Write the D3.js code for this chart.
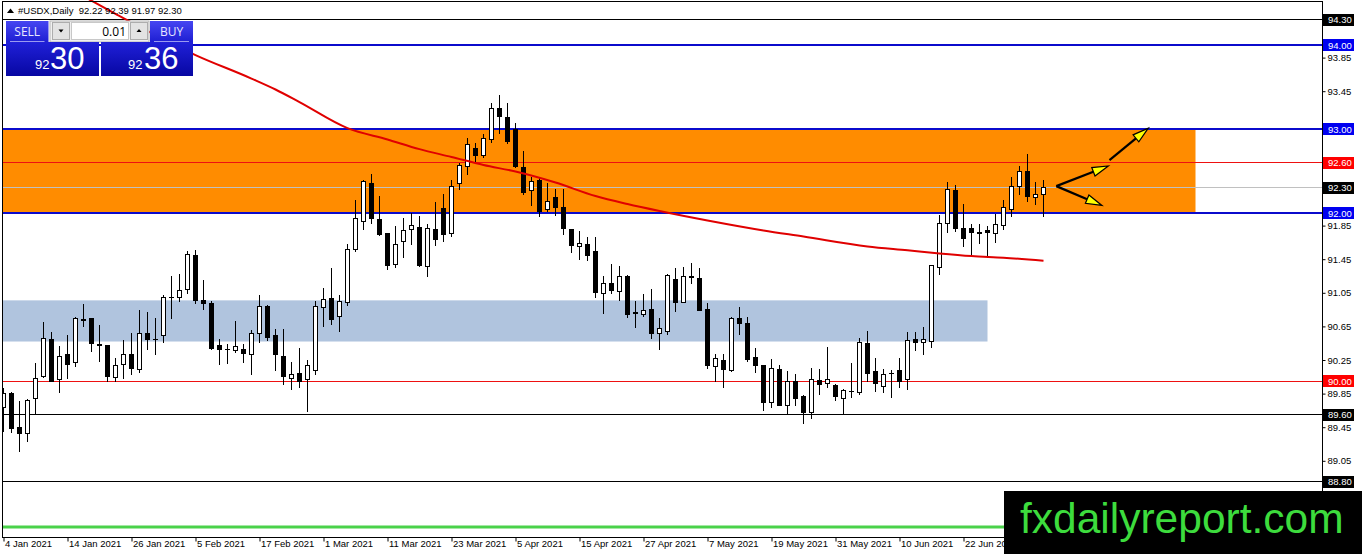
<!DOCTYPE html>
<html><head><meta charset="utf-8">
<script src="https://cdn.jsdelivr.net/npm/d3@7"></script>
<style>body{margin:0;background:#fff;overflow:hidden}svg{display:block}</style>
</head><body><svg id="c" width="1362" height="554"></svg>
<script>
// ---------------- DATA ----------------
const symbolTitle = "#USDX,Daily";
const headerOHLC = ["92.22", "92.39", "91.97", "92.30"];
const lotSize = "0.01";
const sellQuote = ["92", "30"];
const buyQuote = ["92", "36"];
const watermark = "fxdailyreport.com";

const dateLabels = ["4 Jan 2021","14 Jan 2021","26 Jan 2021","5 Feb 2021","17 Feb 2021","1 Mar 2021",
  "11 Mar 2021","23 Mar 2021","5 Apr 2021","15 Apr 2021","27 Apr 2021","7 May 2021","19 May 2021",
  "31 May 2021","10 Jun 2021","22 Jun 2021"];
const dateTickIdx = [0,8,16,24,32,40,48,56,64,72,80,88,96,104,112,120];

const priceTicks = [94.25,93.85,93.45,93.05,92.65,92.25,91.85,91.45,91.05,90.65,90.25,89.85,89.45,89.05];

const openV = [89.68,89.85,89.45,89.37,89.79,90.05,90.50,90.02,90.31,90.22,
 90.73,90.75,90.43,90.42,90.04,90.20,90.32,90.14,90.57,90.50,
 90.54,90.99,91.00,91.09,91.50,90.96,90.92,90.42,90.38,90.36,
 90.38,90.32,90.57,90.89,90.54,90.29,90.03,90.09,90.02,90.13,
 90.88,90.98,90.77,90.93,91.56,91.90,92.35,91.92,91.76,91.39,
 91.66,91.80,91.83,91.36,91.80,92.05,91.76,92.35,92.55,92.77,
 92.69,92.87,93.24,93.14,93.00,92.54,92.27,92.39,92.04,92.18,
 92.06,91.80,91.60,91.63,91.54,91.04,91.16,91.06,91.25,90.81,
 90.79,90.85,90.57,90.59,91.21,90.94,91.24,91.22,90.85,90.17,
 90.25,90.13,90.75,90.69,90.28,90.18,89.74,90.14,89.71,89.99,
 89.81,89.62,90.01,89.97,89.95,89.79,89.88,89.86,90.45,90.11,
 89.93,90.09,90.13,90.02,90.49,90.46,90.47,91.35,91.88,92.27,
 91.81,91.82,91.77,91.79,91.76,91.85,92.04,92.31,92.49,92.19,
 92.22];
const highV = [89.92,89.87,89.76,89.78,90.21,90.70,90.58,90.42,90.55,90.76,
 90.92,90.75,90.67,90.42,90.27,90.49,90.57,90.85,90.82,90.75,
 91.02,91.25,91.27,91.55,91.56,91.20,90.95,90.50,90.44,90.71,
 90.44,90.61,91.02,90.90,90.62,90.62,90.23,90.39,90.25,90.95,
 91.11,91.35,91.02,91.63,92.16,92.39,92.46,92.20,91.76,91.85,
 91.94,92.00,91.96,91.87,92.13,92.23,92.39,92.59,92.89,92.83,
 92.94,93.31,93.40,93.31,93.07,92.74,92.43,92.43,92.36,92.29,
 92.29,91.80,91.78,91.71,91.72,91.25,91.39,91.37,91.26,90.95,
 91.04,91.10,90.75,91.27,91.35,91.36,91.40,91.34,90.93,90.32,
 90.32,90.76,90.88,90.76,90.39,90.19,90.26,90.19,90.12,90.08,
 89.83,90.15,90.14,90.40,89.96,89.91,90.21,90.51,90.60,90.27,
 90.14,90.13,90.27,90.58,90.58,90.64,91.37,91.98,92.37,92.33,
 92.11,91.87,91.87,91.85,91.99,92.16,92.43,92.56,92.70,92.37,
 92.39];
const lowV = [89.40,89.39,89.17,89.28,89.62,90.05,90.00,89.87,90.04,90.18,
 90.66,90.36,90.24,90.00,90.00,90.04,90.08,90.11,90.38,90.32,
 90.46,90.75,90.95,91.05,90.93,90.86,90.38,90.20,90.22,90.34,
 90.23,90.08,90.47,90.49,90.13,89.96,89.90,89.93,89.64,90.08,
 90.65,90.68,90.59,90.91,91.55,91.81,91.88,91.74,91.33,91.36,
 91.48,91.63,91.37,91.25,91.62,91.67,91.73,92.29,92.47,92.61,
 92.67,92.84,92.95,92.83,92.55,92.23,92.10,91.96,92.02,91.98,
 91.75,91.54,91.45,91.44,91.00,90.81,91.05,90.96,90.76,90.64,
 90.77,90.51,90.38,90.56,90.83,90.94,91.17,90.84,90.15,90.00,
 89.93,90.12,90.56,90.24,90.11,89.65,89.69,89.71,89.61,89.71,
 89.50,89.56,89.85,89.93,89.77,89.62,89.81,89.85,90.00,89.88,
 89.87,89.81,89.93,89.91,90.37,90.32,90.40,91.27,91.77,91.79,
 91.61,91.50,91.64,91.48,91.66,91.81,91.96,92.23,92.14,92.11,
 91.97];
const closeV = [89.85,89.44,89.38,89.77,90.03,90.51,90.00,90.29,90.20,90.75,
 90.72,90.45,90.42,90.05,90.18,90.32,90.15,90.56,90.50,90.49,
 90.99,91.00,91.08,91.51,90.96,90.92,90.39,90.38,90.37,90.41,
 90.33,90.56,90.89,90.52,90.31,90.05,90.08,90.00,90.19,90.89,
 90.97,90.73,90.95,91.57,91.94,92.37,91.94,91.75,91.38,91.63,
 91.79,91.85,91.37,91.81,91.69,91.74,92.31,92.56,92.81,92.68,
 92.89,93.25,93.15,92.85,92.55,92.24,92.37,92.02,92.14,92.06,
 91.81,91.61,91.64,91.49,91.05,91.16,91.08,91.24,90.79,90.80,
 90.84,90.56,90.62,91.26,90.93,91.24,91.23,90.84,90.18,90.27,
 90.14,90.75,90.69,90.26,90.19,89.74,90.15,89.71,90.00,89.79,
 89.62,90.02,89.96,90.02,89.81,89.89,89.87,90.46,90.09,89.97,
 90.08,90.09,90.00,90.48,90.46,90.49,91.37,91.88,92.28,91.81,
 91.70,91.77,91.76,91.77,91.86,92.06,92.31,92.49,92.20,92.22,
 92.30];

// moving average (at these bars)
const maIdx = [10,14,24,31,34,37,43,48,52,56,60,64,69,74,78,82,88,95,100,108,113,117,121,125,130];
const maVal = [94.58,94.37,93.88,93.60,93.47,93.32,93.01,92.875,92.76,92.667,92.571,92.494,92.363,
  92.202,92.107,92.024,91.911,91.792,91.72,91.602,91.556,91.518,91.487,91.468,91.432];

// horizontal levels
const blueLevels = [94.00, 93.00, 92.00];
const redLevels = [92.60, 90.00];
const blackLevels = [94.30, 89.60, 88.80];
const bidLevel = 92.30;
const greenLevel = 88.26;

// zones [fromBar, toBar, lowPrice, highPrice]
const orangeZone = [-1, 149, 92.00, 93.00];
const blueZone = [-1, 123, 90.47, 90.96];

// arrows [fromBar, fromPrice, toBar, toPrice]
const arrowsData = [
  [131.6, 92.32, 138.1, 92.56],
  [138.25, 92.63, 143.1, 93.01],
  [131.6, 92.32, 137.3, 92.09]
];

// ---------------- LAYOUT ----------------
const svg = d3.select("#c");
const L = 2.5, T = 1.5, R = 1322.5, B = 537.5;
const x = d3.scaleLinear().domain([0, 130]).range([3.5, 1043.5]);
const y = d3.scaleLinear().domain([92, 93]).range([213, 129]);
const crisp = v => Math.round(v - 0.5) + 0.5;

const defs = svg.append("defs");
defs.append("clipPath").attr("id", "plot").append("rect")
  .attr("x", L).attr("y", 0).attr("width", R - L).attr("height", B);
function grad(id, c1, c2) {
  const g = defs.append("linearGradient").attr("id", id).attr("x1", 0).attr("y1", 0).attr("x2", 0).attr("y2", 1);
  g.append("stop").attr("offset", "0%").attr("stop-color", c1);
  g.append("stop").attr("offset", "100%").attr("stop-color", c2);
}
grad("gSmall", "#4646f2", "#1e1ed2");
grad("gBig", "#2020d8", "#0707a2");

svg.append("rect").attr("width", 1362).attr("height", 554).attr("fill", "#fff");
const plot = svg.append("g").attr("clip-path", "url(#plot)");

// zones
function zone(z, color) {
  const x0 = Math.max(L, x(z[0])), x1 = x(z[1]);
  plot.append("rect").attr("x", x0).attr("width", x1 - x0)
    .attr("y", y(z[3])).attr("height", y(z[2]) - y(z[3])).attr("fill", color);
}
zone(orangeZone, "#ff8c00");
zone(blueZone, "#b0c4de");

// horizontal lines
function hline(p, color, w) {
  const yy = w % 2 ? crisp(y(p)) : Math.round(y(p));
  plot.append("line").attr("x1", L).attr("x2", R).attr("y1", yy).attr("y2", yy)
    .attr("stroke", color).attr("stroke-width", w);
}
hline(bidLevel, "#c0c0c0", 1);
redLevels.forEach(p => hline(p, "#ee1111", 1));
blackLevels.forEach(p => hline(p, "#000", 1));
blueLevels.forEach(p => hline(p, "#0b0bcc", 2));
plot.append("line").attr("x1", L).attr("x2", R).attr("y1", Math.round(y(greenLevel)))
  .attr("y2", Math.round(y(greenLevel))).attr("stroke", "#4ad24a").attr("stroke-width", 3);

// candles
const bars = d3.range(openV.length).map(i => ({i, o: openV[i], h: highV[i], l: lowV[i], c: closeV[i]}));
const cg = plot.append("g");
cg.selectAll("line.wick").data(bars).join("line").attr("class", "wick")
  .attr("x1", d => x(d.i)).attr("x2", d => x(d.i))
  .attr("y1", d => Math.round(y(d.h))).attr("y2", d => Math.round(y(d.l)) + 1)
  .attr("stroke", "#000").attr("stroke-width", 1);
bars.forEach(d => {
  const top = crisp(y(Math.max(d.o, d.c))), bot = crisp(y(Math.min(d.o, d.c)));
  const cx = x(d.i);
  if (bot - top < 1) {
    cg.append("line").attr("x1", cx - 2.5).attr("x2", cx + 2.5).attr("y1", top).attr("y2", top)
      .attr("stroke", "#000").attr("stroke-width", 1);
  } else {
    cg.append("rect").attr("x", cx - 2).attr("width", 4).attr("y", top).attr("height", bot - top)
      .attr("fill", d.c >= d.o ? "#fff" : "#000").attr("stroke", "#000").attr("stroke-width", 1);
  }
});

// moving average
const maPts = maIdx.map((d, k) => [x(d), y(maVal[k])]);
svg.append("path").attr("d", d3.line().curve(d3.curveMonotoneX)(maPts))
  .attr("fill", "none").attr("stroke", "#e00000").attr("stroke-width", 2);

// arrows
arrowsData.forEach(a => {
  const x0 = x(a[0]), y0 = y(a[1]), x1 = x(a[2]), y1 = y(a[3]);
  const ang = Math.atan2(y1 - y0, x1 - x0);
  const len = 16, hw = 4.5;
  const bx = x1 - len * Math.cos(ang), by = y1 - len * Math.sin(ang);
  svg.append("line").attr("x1", x0).attr("y1", y0).attr("x2", bx).attr("y2", by)
    .attr("stroke", "#000").attr("stroke-width", 2.2);
  const px = -Math.sin(ang) * hw, py = Math.cos(ang) * hw;
  svg.append("polygon")
    .attr("points", [[x1, y1], [bx + px, by + py], [bx - px, by - py]].map(p => p.join(",")).join(" "))
    .attr("fill", "#ffff00").attr("stroke", "#000").attr("stroke-width", 1.2).attr("stroke-linejoin", "miter");
});

// frame
svg.append("rect").attr("x", L).attr("y", T).attr("width", R - L).attr("height", B - T)
  .attr("fill", "none").attr("stroke", "#000").attr("stroke-width", 1);

// level tags occupy the axis at these prices; tick labels right under a tag are hidden by it
const tagLevels = blackLevels.concat(blueLevels, redLevels, [bidLevel]);
const hiddenByTag = p => tagLevels.some(t => Math.abs(y(t) - y(p)) < 9);

// price axis
const FONT = "'Liberation Sans', Arial, sans-serif";
const ya = svg.append("g").attr("transform", `translate(${R},0)`)
  .call(d3.axisRight(y).tickValues(priceTicks).tickSize(3).tickPadding(2)
    .tickFormat(p => hiddenByTag(p) ? "" : d3.format(".2f")(p)));
ya.select(".domain").remove();
ya.selectAll("text").attr("font-family", FONT).attr("font-size", 9.5).attr("fill", "#000");
ya.selectAll("line").attr("stroke", "#000");

// date axis
const xa = svg.append("g").attr("transform", `translate(0,${B})`)
  .call(d3.axisBottom(x).tickValues(dateTickIdx).tickSize(4).tickFormat((d, k) => dateLabels[k]));
xa.select(".domain").remove();
xa.selectAll("text").attr("font-family", FONT).attr("font-size", 9.5).attr("fill", "#000")
  .attr("text-anchor", "start").attr("x", 1).attr("y", 2.5);
xa.selectAll("line").attr("stroke", "#000");

// level labels on the price axis
function tag(p, bg) {
  const yy = y(p);
  svg.append("rect").attr("x", R + 0.5).attr("y", Math.round(yy) - 6).attr("width", 31).attr("height", 12).attr("fill", bg);
  svg.append("text").attr("x", R + 5.5).attr("y", yy + 3.5).attr("font-family", FONT).attr("font-size", 9.5)
    .attr("fill", "#fff").text(d3.format(".2f")(p));
}
blackLevels.forEach(p => tag(p, "#000"));
blueLevels.forEach(p => tag(p, "#0000f0"));
redLevels.forEach(p => tag(p, "#ff0000"));
tag(bidLevel, "#000");

// header
svg.append("polygon").attr("points", "7,13 10.5,8.5 14,13").attr("fill", "#000");
svg.append("text").attr("x", 18).attr("y", 13.5).attr("font-family", FONT).attr("font-size", 9.5)
  .attr("fill", "#000").attr("xml:space", "preserve")
  .text(symbolTitle + "  " + headerOHLC.join(" "));

// one-click trading panel
const PF = "'Open Sans', 'Noto Sans', sans-serif";
const panel = svg.append("g");
panel.append("rect").attr("x", 50).attr("y", 21).attr("width", 99).attr("height", 21).attr("fill", "#f0f0f0")
  .attr("stroke", "#b5b5b5").attr("stroke-width", 1);
panel.append("rect").attr("x", 52.5).attr("y", 22.5).attr("width", 17).attr("height", 17).attr("fill", "#e3e3e3")
  .attr("stroke", "#adadad");
panel.append("polygon").attr("points", "58.5,29.5 63.5,29.5 61,32.5").attr("fill", "#000");
panel.append("rect").attr("x", 71.5).attr("y", 22.5).attr("width", 57).attr("height", 17).attr("fill", "#fff")
  .attr("stroke", "#c8c8c8");
panel.append("text").attr("x", 126).attr("y", 35.5).attr("text-anchor", "end").attr("font-family", PF)
  .attr("font-size", 12).attr("fill", "#000").text(lotSize);
panel.append("rect").attr("x", 130.5).attr("y", 22.5).attr("width", 17).attr("height", 17).attr("fill", "#e3e3e3")
  .attr("stroke", "#adadad");
panel.append("polygon").attr("points", "136.5,32 141.5,32 139,29").attr("fill", "#000");

[[6, 42.5, "SELL"], [150, 43, "BUY"]].forEach(b => {
  panel.append("rect").attr("x", b[0]).attr("y", 21).attr("width", b[1]).attr("height", 21).attr("fill", "url(#gSmall)");
  panel.append("text").attr("x", b[0] + b[1] / 2).attr("y", 35.5).attr("text-anchor", "middle").attr("font-family", PF)
    .attr("font-size", 12).attr("fill", "#e8e8ff").text(b[2]);
  panel.append("line").attr("x1", b[0] + 4).attr("x2", b[0] + b[1] - 4).attr("y1", 41.5).attr("y2", 41.5)
    .attr("stroke", "#9a9af0").attr("stroke-width", 1);
});
[[6, 93, sellQuote, 35, 50], [101, 92, buyQuote, 128, 144]].forEach(b => {
  panel.append("rect").attr("x", b[0]).attr("y", 42).attr("width", b[1]).attr("height", 34).attr("fill", "url(#gBig)");
  panel.append("text").attr("x", b[3]).attr("y", 68.5).attr("font-family", FONT).attr("font-size", 13)
    .attr("fill", "#fff").text(b[2][0]);
  panel.append("text").attr("x", b[4]).attr("y", 69).attr("font-family", FONT).attr("font-size", 31)
    .attr("fill", "#fff").text(b[2][1]);
});

// watermark
svg.append("rect").attr("x", 1004).attr("y", 491).attr("width", 358).attr("height", 63).attr("fill", "#000");
svg.append("text").attr("x", 1020).attr("y", 533).attr("font-family", FONT).attr("font-size", 42.5)
  .attr("fill", "#3ddc3d").text(watermark);
</script></body></html>
